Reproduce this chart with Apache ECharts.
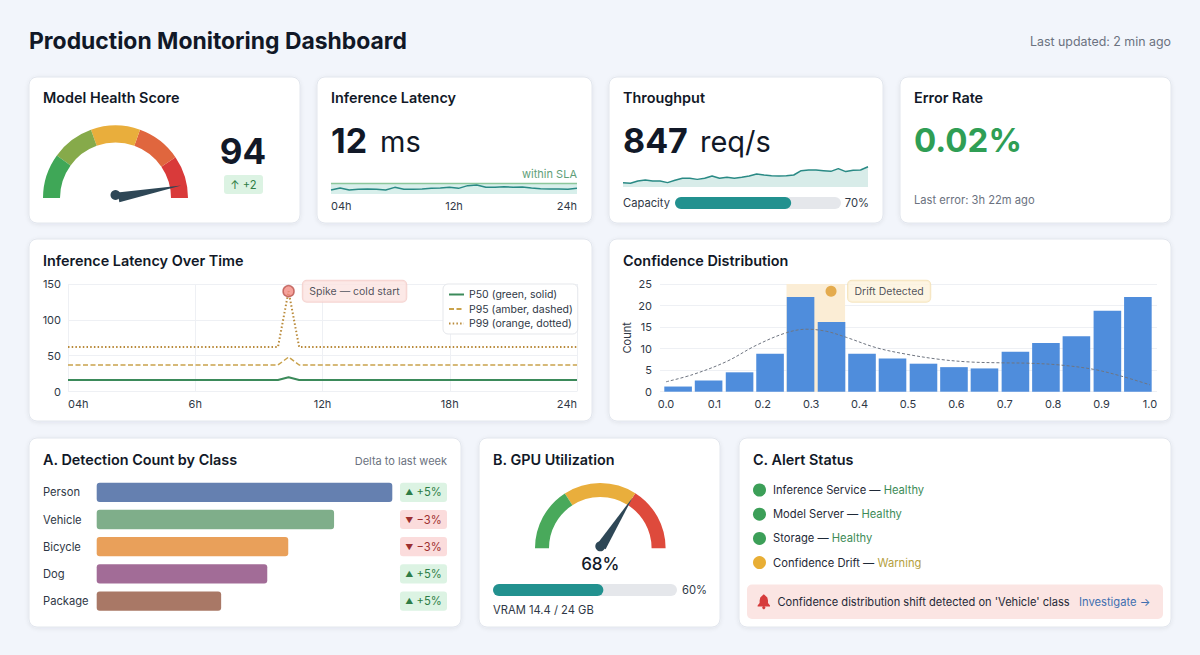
<!DOCTYPE html>
<html>
<head>
<meta charset="utf-8">
<title>Production Monitoring Dashboard</title>
<script src="https://cdn.jsdelivr.net/npm/echarts@6/dist/echarts.min.js"></script>
<style>
html,body{margin:0;padding:0;background:#f2f5fb;}
#dash{width:1200px;height:655px;}
</style>
</head>
<body>
<div id="dash"></div>
<script>
// Headline figures
const healthScore = 94;
const gpuUtilization = 68;
const capacityPct = 70;
const vramPct = 60;

// Inference latency sparkline (ms) and its SLA ceiling
const latencySpark = [8,12,8,9.3,10,9.3,8,13.3,9.3,9.3,10,11.3,12,13.3,11.3,16.7,18,13.3,13.3,14.7,13.3,14,12,10.7,10,10,9.3,11.3];
const slaLimit = 21;
const sparkTicks = ['04h','12h','24h'];

// Throughput sparkline (req/s)
const throughputSpark = [732,727,744,752,744,744,732,749,764,764,756,764,781,764,771,764,771,781,796,788,783,781,783,788,820,825,825,820,815,835,813,823,825,849];

// Latency percentiles over time
const hourTicks = {0:'04h',6:'6h',12:'12h',18:'18h',24:'24h'};
const hours = [0,2,4,6,8,9.9,10.4,10.9,12,14,16,18,20,22,24];
const p50 = [16,16,16,16,16,16,20,16,16,16,16,16,16,16,16];
const p95 = [37,37,37,37,37,37,48,37,37,37,37,37,37,37,37];
const p99 = [62,62,62,62,62,62,140,62,62,62,62,62,62,62,62];
const spikeHour = 10.4;
const spikeValue = 140;

// Confidence histogram with its density curve
const binCenters = [0.025,0.088,0.152,0.215,0.278,0.342,0.405,0.468,0.532,0.595,0.658,0.722,0.785,0.848,0.912,0.975];
const binCounts = [1.2,2.6,4.5,8.8,22,16.2,8.8,7.7,6.5,5.7,5.4,9.3,11.3,12.9,18.8,22];
const densityX = [0,0.056,0.125,0.187,0.249,0.291,0.332,0.373,0.435,0.497,0.566,0.628,0.694,0.752,0.814,0.883,0.938,1];
const densityY = [2.3,4,7,10.8,13.7,14.5,14,12.6,10.2,8.7,7.5,6.9,6.7,6.6,6.2,5.2,3.7,1.6];
const confidenceTicks = [0,0.1,0.2,0.3,0.4,0.5,0.6,0.7,0.8,0.9,1];
const driftBand = [0.249,0.37];
const driftPoint = [0.341,23.3];

// Detections per class
const classes = ['Person','Vehicle','Bicycle','Dog','Package'];
const detections = [1000,803,648,577,421];
const classColors = ['#6580b0','#7fae8a','#e9a05a','#a26c97','#a97866'];
const deltas = ['+5%','−3%','−3%','+5%','+5%'];

// Service states
const services = ['Inference Service','Model Server','Storage','Confidence Drift'];
const serviceStates = ['Healthy','Healthy','Healthy','Warning'];

const FONT = 'Inter';
const INK = '#111827';
const AXIS_TEXT = '#2f3846';
const MUTED = '#6b7280';
const TEAL = '#22918f';
const GRID_LINE = '#eef0f4';
const NEEDLE = '#2e4756';
const BODY = 11.2;

const graphics = [];

function card(x, y, w, h) {
  graphics.push({
    type: 'rect', z: -10,
    shape: {x, y, width: w, height: h, r: 8},
    style: {fill: '#ffffff', stroke: '#e2e6ed', lineWidth: 1, shadowBlur: 4, shadowOffsetY: 1, shadowColor: 'rgba(30,41,59,0.08)'}
  });
}
function label(x, y, text, size, color, weight, align) {
  graphics.push({
    type: 'text', z: 20, x, y,
    style: {text, fontFamily: FONT, fontSize: size, fontWeight: weight || 400, fill: color || INK, align: align || 'left', verticalAlign: 'middle'}
  });
}
function heading(x, y, text) { label(x, y, text, 14.4, INK, 600); }
function pill(x, y, w, h, fill) {
  graphics.push({type: 'rect', z: 15, shape: {x, y, width: w, height: h, r: 3}, style: {fill}});
}

// Page header
label(29, 41, 'Production Monitoring Dashboard', 22.9, INK, 700);
label(1171, 41, 'Last updated: 2 min ago', 12.4, MUTED, 400, 'right');

// Card frames
[[29,77,271,146],[317,77,275,146],[609,77,274,146],[900,77,271,146],
 [29,239,563,182],[609,239,562,182],
 [29,438,432,189],[479,438,241,189],[739,438,432,189]].forEach(c => card(c[0], c[1], c[2], c[3]));

// Top row text
heading(43, 97.5, 'Model Health Score');
pill(224, 175, 39, 19, '#dcf3e3');
label(243.5, 185, '↑ +2', BODY, '#2e7d46', 400, 'center');

heading(331, 97.5, 'Inference Latency');
label(331, 140, '12', 34, INK, 700);
label(380, 141, 'ms', 29, INK, 400);
label(577, 174, 'within SLA', 11, '#5f9e78', 400, 'right');

heading(623, 97.5, 'Throughput');
label(623, 140, '847', 34, INK, 700);
label(700, 141, 'req/s', 29, INK, 400);
label(623, 203, 'Capacity', BODY, AXIS_TEXT);
label(869, 203, capacityPct + '%', BODY, AXIS_TEXT, 400, 'right');

heading(914, 97.5, 'Error Rate');
label(914, 140, '0.02%', 33, '#2f9e55', 700);
label(914, 200, 'Last error: 3h 22m ago', BODY, MUTED);

// Middle row headings
heading(43, 260.5, 'Inference Latency Over Time');
heading(623, 260.5, 'Confidence Distribution');

// Bottom row text
heading(43, 459.5, 'A. Detection Count by Class');
label(447, 461, 'Delta to last week', 11, MUTED, 400, 'right');
const rowCenter = i => 492.3 + i * 27.2;
deltas.forEach((d, i) => {
  const up = d[0] === '+';
  const tone = up ? '#2e7d46' : '#9c2f2f';
  pill(400, rowCenter(i) - 9.6, 47, 19.2, up ? '#dcf3e3' : '#fbdcdc');
  graphics.push({
    type: 'text', z: 20, x: 423.5, y: rowCenter(i),
    style: {
      text: '{i|' + (up ? '▲' : '▼') + '}{t| ' + d + '}',
      fontFamily: FONT, fontSize: BODY, align: 'center', verticalAlign: 'middle',
      rich: {
        i: {fontFamily: FONT, fontSize: 8, fill: tone},
        t: {fontFamily: FONT, fontSize: BODY, fill: tone}
      }
    }
  });
});

heading(493, 459.5, 'B. GPU Utilization');
label(707, 590, vramPct + '%', BODY, AXIS_TEXT, 400, 'right');
label(493, 610, 'VRAM 14.4 / 24 GB', BODY, AXIS_TEXT);

heading(753, 459.5, 'C. Alert Status');
services.forEach((s, i) => {
  const y = 490 + i * 24.2;
  const warn = serviceStates[i] === 'Warning';
  graphics.push({type: 'circle', z: 15, shape: {cx: 759.5, cy: y, r: 6.5}, style: {fill: warn ? '#e8ae35' : '#3c9f58'}});
  graphics.push({
    type: 'text', z: 20, x: 773, y,
    style: {
      text: '{a|' + s + ' — }{b|' + serviceStates[i] + '}',
      fontFamily: FONT, fontSize: BODY, verticalAlign: 'middle',
      rich: {
        a: {fontFamily: FONT, fontSize: BODY, fill: '#1f2937'},
        b: {fontFamily: FONT, fontSize: BODY, fill: warn ? '#b5a040' : '#3d8b57'}
      }
    }
  });
});
graphics.push({type: 'rect', z: 10, shape: {x: 747, y: 584.5, width: 416, height: 34.5, r: 5}, style: {fill: '#fbe5e3'}});
// Alert bell: dome, flared rim and clapper
graphics.push({
  type: 'polygon', z: 20,
  shape: {points: [[763.8,594.3],[765.2,595.6],[767.3,597.5],[768,600.5],[768,603],[770,605.4],[770,606.5],[757.6,606.5],[757.6,605.4],[759.6,603],[759.6,600.5],[760.3,597.5],[762.4,595.6]]},
  style: {fill: '#d63c3c'}
});
graphics.push({type: 'circle', z: 20, shape: {cx: 763.8, cy: 607.6, r: 1.6}, style: {fill: '#d63c3c'}});
label(777.5, 602, "Confidence distribution shift detected on 'Vehicle' class", 11.1, '#1f2937');
label(1079, 602, 'Investigate →', BODY, '#3f6fb0');

// Semi-circular gauge with a tapered needle on a 0–100 scale
function gauge(center, radius, width, stops, value, needleLen, needleW, hub, lift, detail) {
  return {
    type: 'gauge', z: 5, center, radius, startAngle: 180, endAngle: 0, min: 0, max: 100,
    axisLine: {lineStyle: {width, color: stops}},
    axisTick: {show: false}, splitLine: {show: false}, axisLabel: {show: false},
    pointer: {icon: 'triangle', length: needleLen, width: needleW, offsetCenter: [0, lift], itemStyle: {color: NEEDLE}},
    anchor: {show: true, size: hub, showAbove: true, offsetCenter: [0, lift], itemStyle: {color: NEEDLE}},
    title: {show: false},
    detail,
    data: [{value}]
  };
}

// Horizontal meter: rounded fill on a rounded track
function meter(gridIndex, value) {
  return {
    type: 'bar', xAxisIndex: gridIndex, yAxisIndex: gridIndex, barWidth: 12,
    showBackground: true, backgroundStyle: {color: '#e5e7eb', borderRadius: 6},
    itemStyle: {color: TEAL, borderRadius: 6},
    data: [value]
  };
}
const meterX = i => ({gridIndex: i, type: 'value', min: 0, max: 100, show: false});
const meterY = i => ({gridIndex: i, type: 'category', data: [''], show: false});

const sparkLast = latencySpark.length - 1;
const sparkIndex = latencySpark.map((_, i) => i);
const sparkTickAt = [0, sparkLast / 2, sparkLast];

const option = {
  animation: false,
  backgroundColor: '#f2f5fb',
  textStyle: {fontFamily: FONT},
  graphic: {elements: graphics},
  grid: [
    {left: 331, top: 178, width: 246, height: 16},
    {left: 623, top: 165.2, width: 245, height: 21.8},
    {left: 675, top: 197, width: 166, height: 12},
    {left: 68, top: 284, width: 509, height: 107.5},
    {left: 660, top: 284, width: 497, height: 107.7},
    {left: 96.7, top: 478.7, width: 295.6, height: 136},
    {left: 493, top: 584, width: 184, height: 12}
  ],
  xAxis: [
    {
      gridIndex: 0, type: 'value', min: 0, max: sparkLast,
      axisLine: {show: false}, axisTick: {show: false}, splitLine: {show: false},
      axisLabel: {
        show: true, customValues: sparkTickAt,
        formatter: v => sparkTicks[sparkTickAt.indexOf(v)], margin: 6, fontFamily: FONT, fontSize: 11, color: AXIS_TEXT,
        showMinLabel: true, showMaxLabel: true, alignMinLabel: 'left', alignMaxLabel: 'right'
      }
    },
    {gridIndex: 1, type: 'value', min: 0, max: throughputSpark.length - 1, show: false},
    meterX(2),
    {
      gridIndex: 3, type: 'value', min: 0, max: 24, interval: 6,
      axisLine: {show: false}, axisTick: {show: false},
      splitLine: {show: true, lineStyle: {color: GRID_LINE}},
      axisLabel: {
        formatter: v => hourTicks[v], margin: 7, fontFamily: FONT, fontSize: 11, color: AXIS_TEXT,
        alignMinLabel: 'left', alignMaxLabel: 'right'
      }
    },
    {
      gridIndex: 4, type: 'value', min: -0.0124, max: 1.0145,
      axisLine: {show: false}, axisTick: {show: false}, splitLine: {show: false},
      axisLabel: {
        customValues: confidenceTicks, formatter: v => v.toFixed(1), margin: 7,
        fontFamily: FONT, fontSize: 11, color: AXIS_TEXT,
        showMinLabel: true, showMaxLabel: true
      }
    },
    {gridIndex: 5, type: 'value', min: 0, max: 1000, show: false},
    meterX(6)
  ],
  yAxis: [
    {gridIndex: 0, type: 'value', min: 0, max: 32, show: false},
    {gridIndex: 1, type: 'value', min: 700, max: 860, show: false},
    meterY(2),
    {
      gridIndex: 3, type: 'value', min: 0, max: 150, interval: 50,
      axisLine: {show: false}, axisTick: {show: false},
      splitLine: {lineStyle: {color: GRID_LINE}},
      axisLabel: {margin: 7, fontFamily: FONT, fontSize: 11, color: AXIS_TEXT}
    },
    {
      gridIndex: 4, type: 'value', min: 0, max: 25, interval: 5,
      name: 'Count', nameLocation: 'middle', nameRotate: 90, nameGap: 28,
      nameTextStyle: {fontFamily: FONT, fontSize: 11, color: AXIS_TEXT},
      axisLine: {show: false}, axisTick: {show: false},
      splitLine: {lineStyle: {color: GRID_LINE}},
      axisLabel: {margin: 8, fontFamily: FONT, fontSize: 11, color: AXIS_TEXT}
    },
    {
      gridIndex: 5, type: 'category', inverse: true, data: classes,
      axisLine: {show: false}, axisTick: {show: false},
      axisLabel: {align: 'left', margin: 53.7, fontFamily: FONT, fontSize: BODY, color: AXIS_TEXT}
    },
    meterY(6)
  ],
  legend: {
    orient: 'vertical', left: 443, top: 284, padding: [5, 5, 5, 5],
    itemWidth: 15, itemHeight: 10, itemGap: 3.5, z: 8,
    backgroundColor: '#ffffff', borderColor: '#e5e7eb', borderWidth: 1, borderRadius: 5,
    itemStyle: {color: 'rgba(0,0,0,0)', borderColor: 'rgba(0,0,0,0)', borderWidth: 0},
    textStyle: {fontFamily: FONT, fontSize: 10.5, color: AXIS_TEXT},
    data: ['P50 (green, solid)', 'P95 (amber, dashed)', 'P99 (orange, dotted)']
  },
  series: [
    gauge([115.5, 198], 72.5, 17,
      [[0.2,'#3fa757'],[0.39,'#86aa4a'],[0.61,'#e9ae3c'],[0.81,'#e0663e'],[1,'#d93a3a']],
      healthScore, 64, 10, 10, -3,
      {show: true, offsetCenter: [127.5, -47], formatter: '{value}', fontFamily: FONT, fontSize: 35, fontWeight: 700, color: INK}),
    gauge([600.3, 548.3], 65.3, 14,
      [[0.317,'#49a95b'],[0.68,'#e9ae3c'],[1,'#de4a3c']],
      gpuUtilization, 58, 10, 10, -2,
      {show: true, offsetCenter: [0, 16], formatter: '{value}%', fontFamily: FONT, fontSize: 17, fontWeight: 500, color: INK}),

    // Latency sparkline with its SLA ceiling
    {
      type: 'line', xAxisIndex: 0, yAxisIndex: 0, symbol: 'none',
      lineStyle: {color: '#8cc79b', width: 1.5}, areaStyle: {color: '#d8efeb', opacity: 1},
      data: sparkIndex.map(i => [i, slaLimit])
    },
    {
      type: 'line', xAxisIndex: 0, yAxisIndex: 0, symbol: 'none',
      lineStyle: {color: '#2a8a85', width: 1.5},
      data: latencySpark.map((v, i) => [i, v])
    },

    // Throughput sparkline
    {
      type: 'line', xAxisIndex: 1, yAxisIndex: 1, symbol: 'none',
      lineStyle: {color: '#2a8a85', width: 1.5}, areaStyle: {color: '#d8ece9', opacity: 1},
      data: throughputSpark.map((v, i) => [i, v])
    },
    meter(2, capacityPct),

    // Percentile lines over 24 hours
    {
      name: 'P50 (green, solid)', type: 'line', xAxisIndex: 3, yAxisIndex: 3, symbol: 'none',
      lineStyle: {color: '#3b8a5a', width: 2},
      data: hours.map((h, i) => [h, p50[i]])
    },
    {
      name: 'P95 (amber, dashed)', type: 'line', xAxisIndex: 3, yAxisIndex: 3, symbol: 'none',
      lineStyle: {color: '#c9a24c', width: 1.5, type: [5, 2.5]},
      data: hours.map((h, i) => [h, p95[i]])
    },
    {
      name: 'P99 (orange, dotted)', type: 'line', xAxisIndex: 3, yAxisIndex: 3, symbol: 'none',
      lineStyle: {color: '#b98a3a', width: 2, type: [1.5, 2.2]},
      data: hours.map((h, i) => [h, p99[i]])
    },
    {
      type: 'scatter', xAxisIndex: 3, yAxisIndex: 3, symbolSize: 11, z: 6,
      itemStyle: {color: '#f28b82', borderColor: '#b9544e', borderWidth: 1.5},
      label: {
        show: true, position: 'right', distance: 8, formatter: 'Spike — cold start',
        fontFamily: FONT, fontSize: 10.5, color: '#1f2937',
        backgroundColor: '#fbe3e1', borderColor: '#f3c9c6', borderWidth: 1, borderRadius: 4,
        padding: [5, 6.5]
      },
      data: [[spikeHour, spikeValue]]
    },

    // Confidence histogram, drift band and density curve
    {
      type: 'line', xAxisIndex: 4, yAxisIndex: 4, symbol: 'none', z: 1, data: [],
      markArea: {silent: true, z: 1, itemStyle: {color: '#fbedd5'}, data: [[{xAxis: driftBand[0]}, {xAxis: driftBand[1]}]]}
    },
    {
      type: 'bar', xAxisIndex: 4, yAxisIndex: 4, barWidth: 27.6, z: 3,
      itemStyle: {color: '#4f8ddc'},
      data: binCenters.map((c, i) => [c, binCounts[i]])
    },
    {
      type: 'line', xAxisIndex: 4, yAxisIndex: 4, symbol: 'none', smooth: 0.35, z: 4,
      lineStyle: {color: '#6f7580', width: 1, type: [3, 2]},
      data: densityX.map((x, i) => [x, densityY[i]])
    },
    {
      type: 'scatter', xAxisIndex: 4, yAxisIndex: 4, symbolSize: 11, z: 6,
      itemStyle: {color: '#df9a2a'},
      label: {
        show: true, position: 'right', distance: 11.5, formatter: 'Drift Detected',
        fontFamily: FONT, fontSize: 10.5, color: '#1f2937',
        backgroundColor: '#fdf3dc', borderColor: '#f2dfb0', borderWidth: 1, borderRadius: 4,
        padding: [5, 6.5]
      },
      data: [driftPoint]
    },

    // Detections per class
    {
      type: 'bar', xAxisIndex: 5, yAxisIndex: 5, barWidth: 19.3,
      itemStyle: {borderRadius: 3},
      data: detections.map((v, i) => ({value: v, itemStyle: {color: classColors[i]}}))
    },
    meter(6, vramPct)
  ]
};

const chart = echarts.init(document.getElementById('dash'), null, {renderer: 'svg', width: 1200, height: 655});
chart.setOption(option);
</script>
</body>
</html>
